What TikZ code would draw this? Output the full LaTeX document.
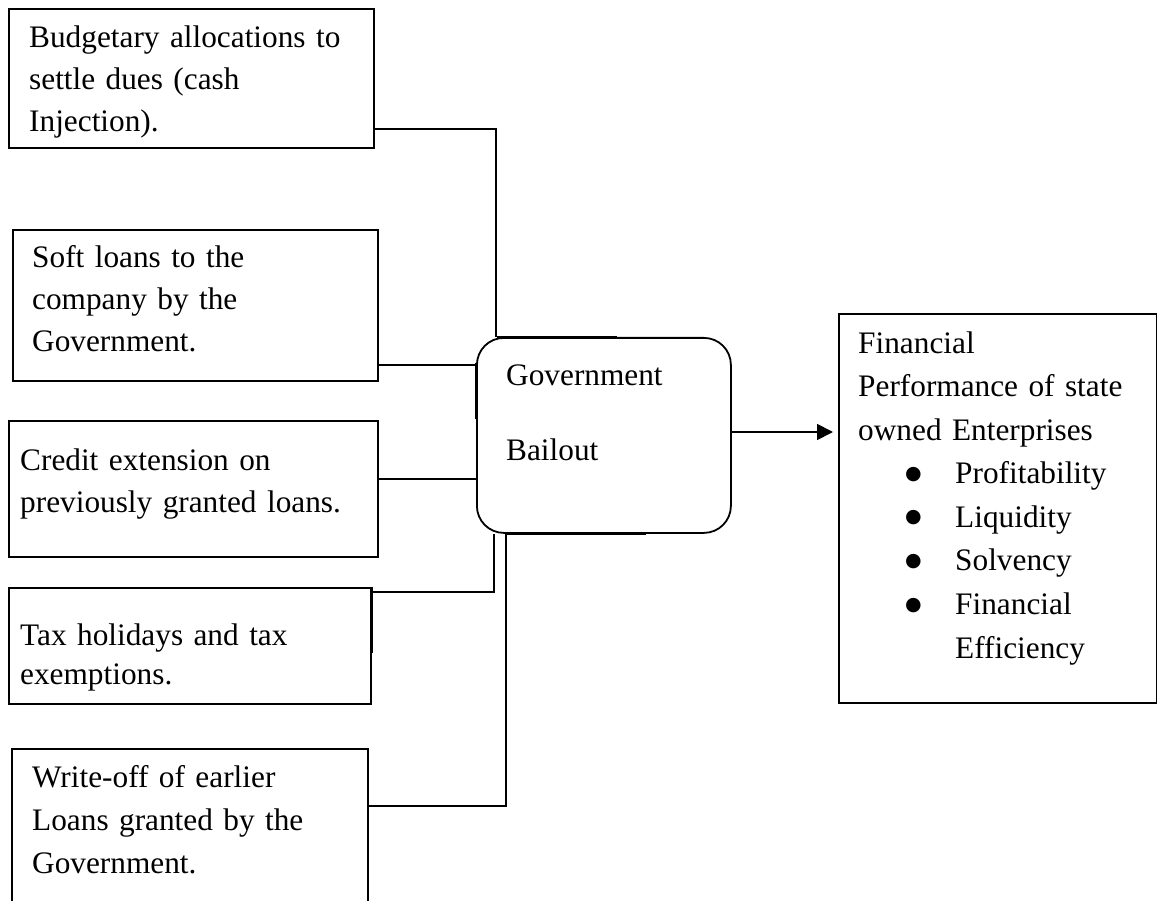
\documentclass[tikz,border=0pt]{standalone}
\usepackage{fontspec}
\setmainfont{Liberation Serif}
\newfontfamily\dejavu{DejaVu Sans}
\usetikzlibrary{arrows.meta}
\newcommand{\bulitem}{\hspace*{47pt}\makebox[50pt][l]{\raisebox{4.5pt}{\dejavu\fontsize{19}{19}\selectfont ●}}}
\begin{document}
\begin{tikzpicture}[x=1pt,y=-1pt,
  box/.style={draw, line width=1.8pt, rectangle, inner sep=0pt, anchor=north west},
  txt/.style={anchor=base west, inner sep=0pt, align=left, text width=345pt,
    font=\fontsize{31.3}{#1}\selectfont},
  conn/.style={line width=1.8pt},
  thick seg/.style={line width=3pt}]
\clip (0,0) rectangle (1157,901);
\fill[white] (0,0) rectangle (1157,901);

% boxes
\node[box, minimum width=365pt, minimum height=139pt] (b1) at (8,8) {};
\node[box, minimum width=365pt, minimum height=151pt] (b2) at (12,229) {};
\node[box, minimum width=369pt, minimum height=136pt] (b3) at (8,420) {};
\node[box, minimum width=362pt, minimum height=116pt] (b4) at (8,587) {};
\node[box, minimum width=356pt, minimum height=200pt] (b5) at (11,748) {};
\node[box, rounded corners=27pt, minimum width=254pt, minimum height=195pt] (bail) at (476,337) {};
\node[box, minimum width=318pt, minimum height=389pt] (b6) at (838,313) {};

% texts
\node[txt=42] (t1) at (29,48) {Budgetary allocations to\\settle dues (cash\\Injection).};
\node[txt=42] (t2) at (32,268) {Soft loans to the\\company by the\\Government.};
\node[txt=42] (t3) at (20,470) {Credit extension on\\previously granted loans.};
\node[txt=39] (t4) at (20,645) {Tax holidays and tax\\exemptions.};
\node[txt=43] (t5) at (32,787) {Write-off of earlier\\Loans granted by the\\Government.};
\node[txt=75] (tb) at (506,385) {Government\\Bailout};
\node[txt=43.6] (t6) at (858,353) {Financial\\Performance of state\\owned Enterprises\\
  \bulitem Profitability\\
  \bulitem Liquidity\\
  \bulitem Solvency\\
  \bulitem Financial\\
  \hspace*{97pt}Efficiency};

% connectors
\draw[conn] (b1.east |- 0,129) -| (bail.north -| 496,0);
\draw[conn] (b2.east |- 0,365) -- (bail.west |- 0,365);
\draw[conn] (b3.east |- 0,479) -- (bail.west |- 0,479);
\draw[conn] (b4.east |- 0,592) -| (bail.south -| 494,0);
\draw[conn] (bail.south -| 506,0) |- (b5.east |- 0,806);
\draw[conn, shorten >=5pt, -{Triangle[length=16pt,width=16pt]}] (bail.east |- 0,432) -- (b6.west |- 0,432);

% heavier line segments
\draw[thick seg] (bail.west |- 0,363) -- (bail.west |- 0,419);
\draw[thick seg] (b4.east |- 0,587) -- (b4.east |- 0,653);
\draw[line width=2.4pt] (bail.north -| 497,0) -- (bail.north -| 617,0);
\draw[line width=2.4pt] (bail.south -| 506,0) -- (bail.south -| 646,0);
\end{tikzpicture}
\end{document}
